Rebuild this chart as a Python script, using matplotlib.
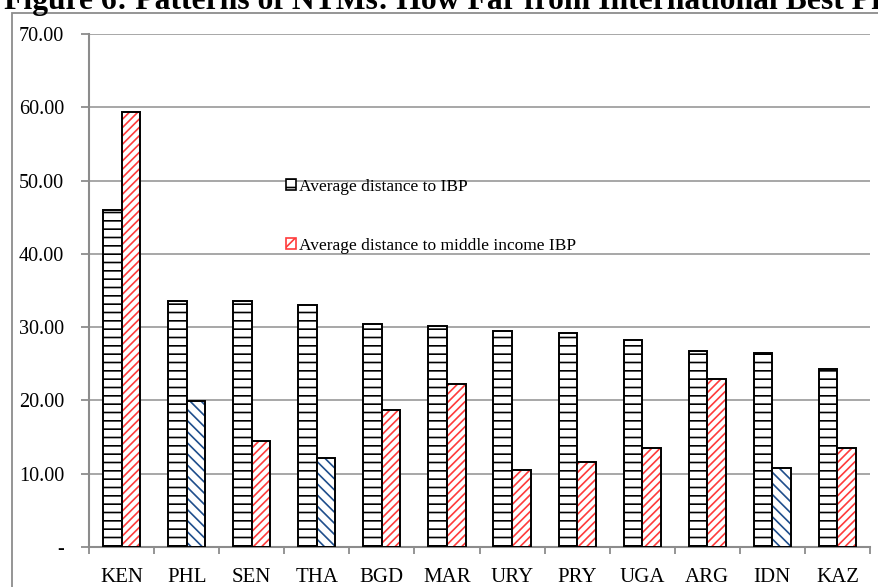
import matplotlib.pyplot as plt
import numpy as np
from matplotlib.patches import Patch, Rectangle
from matplotlib.ticker import FuncFormatter

plt.rcParams["font.family"] = ["Liberation Serif", "DejaVu Serif"]
plt.rcParams["hatch.linewidth"] = 1.2

COUNTRIES = ["KEN", "PHL", "SEN", "THA", "BGD", "MAR", "URY", "PRY", "UGA", "ARG", "IDN", "KAZ"]
AVG_IBP = [46.0, 33.5, 33.5, 33.0, 30.4, 30.1, 29.5, 29.2, 28.2, 26.8, 26.5, 24.3]
AVG_MID_IBP = [59.3, 19.9, 14.5, 12.1, 18.7, 22.2, 10.5, 11.6, 13.5, 22.9, 10.8, 13.5]
# countries whose middle income bar is shown in blue
BLUE = ["PHL", "THA", "IDN"]

fig = plt.figure(figsize=(8.79, 5.87), dpi=100)
ax = fig.add_axes([89 / 879, 1 - 547 / 587, 781 / 879, 513 / 587])

# outer chart border, running off the right and bottom edges
fig.patches.append(Rectangle((12 / 879, -0.05), 1.0, 1.05 - 13 / 587,
                             transform=fig.transFigure, fill=False,
                             edgecolor="#8c8c8c", linewidth=1.3, zorder=0))

fig.text(0.004, 1 - 9 / 587, "Figure 6: Patterns of NTMs: How Far from International Best Practice?",
         fontsize=22.8, fontweight="bold", va="baseline", ha="left")

x = np.arange(len(COUNTRIES))
w = 0.285

ax.bar(x - w / 2, AVG_IBP, w, color="white", edgecolor="black", linewidth=1.4,
       hatch="--", zorder=3)

mid_colors = ["#1f4e8c" if c in BLUE else "#ff3b3b" for c in COUNTRIES]
mid_hatch = ["\\\\\\" if c in BLUE else "////" for c in COUNTRIES]
hatched = ax.bar(x + w / 2, AVG_MID_IBP, w, color="white", linewidth=0, zorder=3)
for bar, col, h in zip(hatched, mid_colors, mid_hatch):
    bar.set_edgecolor(col)
    bar.set_hatch(h)
ax.bar(x + w / 2, AVG_MID_IBP, w, fill=False, edgecolor="black", linewidth=1.4, zorder=4)

ax.set_xlim(-0.5, len(COUNTRIES) - 0.5)
ax.set_ylim(0, 70)
ax.set_yticks(np.arange(0, 71, 10))
ax.yaxis.set_major_formatter(FuncFormatter(lambda v, p: "-" if v == 0 else f"{v:.2f}"))
ax.set_xticks(x)
ax.set_xticklabels(COUNTRIES)
ax.set_xticks(np.arange(-0.5, len(COUNTRIES), 1), minor=True)
ax.tick_params(axis="x", which="major", length=0, pad=15, labelsize=15)
ax.tick_params(axis="x", which="minor", length=5, color="#8c8c8c", width=1.3)
ax.tick_params(axis="y", length=6, color="#8c8c8c", width=1.3, labelsize=14.5, pad=12)

ax.grid(axis="y", color="#a0a0a0", linewidth=1.3, zorder=0)
for side in ["top", "right"]:
    ax.spines[side].set_visible(False)
for side in ["left", "bottom"]:
    ax.spines[side].set_color("#8c8c8c")
    ax.spines[side].set_linewidth(1.5)

handles = [
    Patch(facecolor="white", edgecolor="black", hatch="--", linewidth=1.2),
    Patch(facecolor="white", edgecolor="#ff3b3b", hatch="///", linewidth=1.2),
]
ax.legend(handles, ["Average distance to IBP", "Average distance to middle income IBP"],
          loc="upper left", bbox_to_anchor=(277 / 879, 1 - 170 / 587),
          bbox_transform=fig.transFigure, frameon=False, fontsize=12.5,
          handlelength=0.6, handleheight=0.6, handletextpad=0.15,
          labelspacing=2.5, borderpad=0)

fig.savefig("out.png", dpi=100)
